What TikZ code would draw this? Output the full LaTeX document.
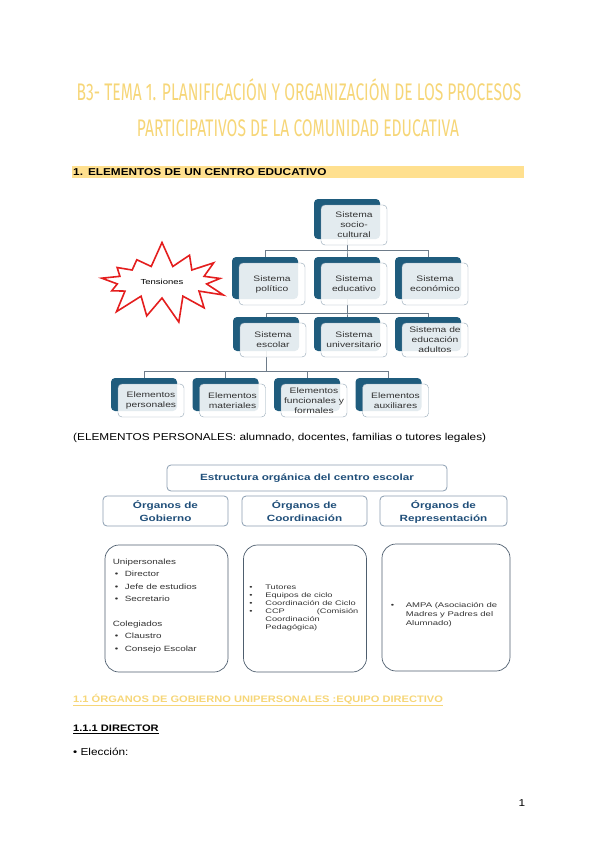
\documentclass[tikz,border=0pt]{standalone}
\usepackage{fontspec}
\setmainfont[FakeStretch=1.18]{Liberation Sans}
\newfontfamily\diagfont[FakeStretch=1.3]{Liberation Sans}
\newfontfamily\tightfont[FakeStretch=1.4]{Liberation Sans}
\newfontfamily\titlefont[FakeStretch=0.65]{Fira Sans}
\usetikzlibrary{positioning,shapes.symbols,backgrounds}

\definecolor{gold}{HTML}{F6D678}
\definecolor{hilite}{HTML}{FFE08F}
\definecolor{backblue}{HTML}{1F5C7D}
\definecolor{frontline}{HTML}{8FA3B3}
\definecolor{connline}{HTML}{6E7C8A}
\definecolor{orgtext}{HTML}{1F4E79}
\definecolor{headline}{HTML}{8A9DB0}
\definecolor{boxline}{HTML}{4E5E6E}
\definecolor{burst}{HTML}{E41E1E}

\tikzset{
  titletext/.style={text=gold, inner sep=0pt, font=\titlefont\fontsize{24}{24}\selectfont},
  backbox/.style={fill=backblue, rounded corners=4pt, minimum width=66pt, inner sep=0pt},
  frontbox/.style={draw=frontline, fill=white, fill opacity=0.88, text opacity=1,
    rounded corners=4pt, minimum width=66pt, inner sep=0pt, align=center,
    text=black!80, font=\diagfont\fontsize{7.9}{10}\selectfont},
  conn/.style={draw=connline, line width=0.6pt},
  headbox/.style={draw=headline, line width=0.8pt, rounded corners=4pt, align=center,
    text=orgtext, font=\diagfont\bfseries\fontsize{9}{13}\selectfont},
  listbox/.style={draw=boxline, line width=0.7pt, rounded corners=14pt,
    minimum width=123pt, minimum height=127pt},
  listtext/.style={inner sep=0pt, align=left, text=black!80},
}

% back box plus the front box laid over it
\newcommand{\sysbox}[5]{%
  \node[backbox, minimum height=#4] (#1-b) at (#2,#3) {};
  \node[frontbox, minimum height=#4] (#1) at ([shift={(7pt,-6pt)}]#1-b.center) {#5};
}
\newcommand{\listbul}[1]{\makebox[#1][l]{\hspace{2pt}\textbullet}}

\begin{document}
\begin{tikzpicture}[x=1pt, y=-1pt]
  \useasboundingbox (0,0) rectangle (600,848);

  % title
  \node[titletext] (tit1) at (299,90) {B3- TEMA 1. PLANIFICACIÓN Y ORGANIZACIÓN DE LOS PROCESOS};
  \node[titletext] (tit2) at (298,128) {PARTICIPATIVOS DE LA COMUNIDAD EDUCATIVA};

  \node[fill=hilite, anchor=west, text width=450pt, inner xsep=1pt, inner ysep=2pt,
    font=\bfseries] (sec1) at (72,172) {1. ELEMENTOS DE UN CENTRO EDUCATIVO};

  % sistemas
  \sysbox{soc}{347}{219}{40pt}{Sistema\\socio-\\cultural}
  \sysbox{pol}{265}{278}{42pt}{Sistema\\político}
  \sysbox{edu}{347}{278}{42pt}{Sistema\\educativo}
  \sysbox{eco}{428}{278}{42pt}{Sistema\\económico}
  \sysbox{esc}{266}{334}{34pt}{Sistema\\escolar}
  \sysbox{uni}{347}{334}{34pt}{Sistema\\universitario}
  \sysbox{adu}{428}{334}{34pt}{Sistema de\\educación\\adultos}
  \sysbox{per}{144}{394.5}{33pt}{Elementos\\personales}
  \sysbox{mat}{225.5}{394.5}{33pt}{Elementos\\materiales}
  \sysbox{fun}{307}{394.5}{33pt}{Elementos\\funcionales y\\formales}
  \sysbox{aux}{388.5}{394.5}{33pt}{Elementos\\auxiliares}

  \begin{scope}[on background layer]
    \foreach \t in {pol,edu,eco} \draw[conn] (soc-b.south) -- ++(0,11) -| (\t-b.north);
    \foreach \t in {esc,uni,adu} \draw[conn] (edu-b.south) -- ++(0,14) -| (\t-b.north);
    \foreach \t in {per,mat,fun,aux} \draw[conn] (esc-b.south) -- ++(0,20) -| (\t-b.north);
  \end{scope}

  \node[starburst, draw=burst, fill=white, line width=1.6pt, minimum width=142pt,
    minimum height=84pt, starburst points=13, starburst point height=26pt,
    random starburst=7, inner sep=0pt, font=\diagfont\fontsize{7.3}{9}\selectfont]
    (tens) at (162,282) {Tensiones};

  \node[anchor=west, inner sep=0pt] (elem) at (73,438)
    {(ELEMENTOS PERSONALES: alumnado, docentes, familias o tutores legales)};

  % estructura organica
  \node[headbox, minimum width=280pt, minimum height=26pt] (estr) at (307,478)
    {Estructura orgánica del centro escolar};
  \node[headbox, minimum width=125pt, minimum height=30pt] (gob) at (165.5,511) {Órganos de\\Gobierno};
  \node[headbox, minimum width=125pt, minimum height=30pt] (coo) at (304.5,511) {Órganos de\\Coordinación};
  \node[headbox, minimum width=127pt, minimum height=30pt, text depth=0pt] (rep) at (443.5,511)
    {Órganos de\\Representación};

  \node[listbox] (gob-list) at (166.5,608.5) {};
  \node[listbox] (coo-list) at (305,608.5) {};
  \node[listbox, minimum width=128pt] (rep-list) at (446,607.5) {};

  \node[listtext, font=\diagfont\fontsize{7.6}{12.4}\selectfont,
    below right=14pt and 8pt of gob-list.north west] (gob-txt)
    {Unipersonales\\ \listbul{12pt}Director\\ \listbul{12pt}Jefe de estudios\\
     \listbul{12pt}Secretario\\[12.4pt] Colegiados\\ \listbul{12pt}Claustro\\
     \listbul{12pt}Consejo Escolar};
  \node[listtext, font=\tightfont\fontsize{6.6}{8}\selectfont,
    below right=40pt and 4pt of coo-list.north west] (coo-txt)
    {\listbul{18pt}Tutores\\ \listbul{18pt}Equipos de ciclo\\
     \listbul{18pt}Coordinación de Ciclo\\
     \listbul{18pt}\makebox[93pt][l]{CCP\hfill(Comisión}\\
     \hspace*{18pt}Coordinación\\ \hspace*{18pt}Pedagógica)};
  \node[listtext, font=\tightfont\fontsize{6.8}{9}\selectfont,
    below right=59pt and 7pt of rep-list.north west] (rep-txt)
    {\listbul{17pt}AMPA (Asociación de\\ \hspace*{17pt}Madres y Padres del\\
     \hspace*{17pt}Alumnado)};

  % apartados
  \node[anchor=west, inner sep=0pt, text=gold, font=\bfseries\fontsize{9.4}{11}\selectfont] (sec11) at (73,700)
    {\underline{1.1 ÓRGANOS DE GOBIERNO UNIPERSONALES :EQUIPO DIRECTIVO}};
  \node[anchor=west, inner sep=0pt, font=\bfseries\fontsize{9.4}{11}\selectfont] (sec111) at (73,729)
    {\underline{1.1.1 DIRECTOR}};
  \node[anchor=west, inner sep=0pt] (elec) at (73,752) {\textbullet{} Elección:};
  \node (pagenum) at (522,803) {1};
\end{tikzpicture}
\end{document}
